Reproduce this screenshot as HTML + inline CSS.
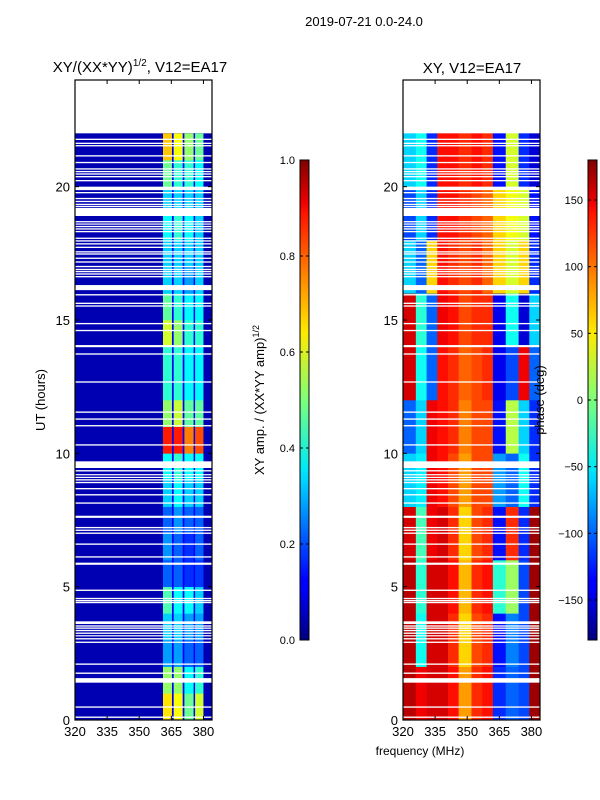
<!DOCTYPE html>
<html><head><meta charset="utf-8">
<style>
html,body{margin:0;padding:0;background:#fff;}
svg{display:block;font-family:"Liberation Sans","DejaVu Sans",sans-serif;}
</style></head>
<body>
<svg id="fig" width="600" height="800" viewBox="0 0 600 800" xmlns="http://www.w3.org/2000/svg">
<defs>
<linearGradient id="jetV" x1="0" y1="1" x2="0" y2="0">
<stop offset="0" stop-color="#000080"/><stop offset="0.11" stop-color="#0000ff"/><stop offset="0.125" stop-color="#0000ff"/>
<stop offset="0.34" stop-color="#00dbff"/><stop offset="0.36" stop-color="#00eaf5"/><stop offset="0.5" stop-color="#7dff7a"/>
<stop offset="0.64" stop-color="#ffea00"/><stop offset="0.66" stop-color="#ffd900"/><stop offset="0.89" stop-color="#ff1300"/>
<stop offset="0.91" stop-color="#f00000"/><stop offset="1" stop-color="#800000"/>
</linearGradient>
</defs>
<text x="364" y="26" text-anchor="middle" font-size="13">2019-07-21 0.0-24.0</text>
<g id="left"></g>
<g id="right"></g>
<g id="cbars"></g>
<text x="140" y="72" text-anchor="middle" font-size="15">XY/(XX*YY)<tspan font-size="10" dy="-6">1/2</tspan><tspan dy="6">, V12=EA17</tspan></text>
<text x="472" y="73" text-anchor="middle" font-size="15">XY, V12=EA17</text>
<text transform="translate(45,400) rotate(-90)" text-anchor="middle" font-size="13">UT (hours)</text>
<text transform="translate(264,400) rotate(-90)" text-anchor="middle" font-size="13">XY amp. / (XX*YY amp)<tspan font-size="9" dy="-5">1/2</tspan></text>
<text transform="translate(544,400) rotate(-90)" text-anchor="middle" font-size="13">phase (deg)</text>
<text x="420" y="755" text-anchor="middle" font-size="12">frequency (MHz)</text>
</svg>
<script>
// ---- data ----
const hourBands = [0,1,2,3,4,5,6,7,8,9,10,11,12,13,14,15,16,17,18,19,20,21,22];
const ampBandStart = [361.1,366.1,371.1,376.1];
const ampBandEnd   = [365.3,370.3,375.4,380.0];
const ampValues = [
 [0.65,0.62,0.48,0.58],[0.52,0.52,0.38,0.42],[0.28,0.28,0.22,0.22],[0.33,0.33,0.28,0.28],
 [0.45,0.38,0.38,0.33],[0.22,0.22,0.17,0.18],[0.27,0.22,0.17,0.22],[0.22,0.27,0.22,0.22],
 [0.33,0.38,0.33,0.33],[0.38,0.42,0.38,0.38],[0.85,0.85,0.75,0.8],[0.52,0.57,0.47,0.47],
 [0.42,0.42,0.37,0.37],[0.42,0.42,0.37,0.37],[0.58,0.52,0.42,0.42],[0.47,0.42,0.37,0.37],
 [0.33,0.33,0.28,0.33],[0.33,0.33,0.33,0.33],[0.38,0.42,0.38,0.33],[0.33,0.33,0.33,0.33],
 [0.48,0.42,0.42,0.38],[0.68,0.62,0.52,0.48]];
const ampBackground = 0.05;
const ampSeparator = 0.12;
const phaseFreqEdges = [320,326,331,336,341,346,352,357,362,368,374,379,384];
const phaseTimeEdges = [0,2,4,6,8,10,12,14,16,18,20,22];
const phaseValues = [
 [160,140,150,150,130,80,120,130,-120,-100,-110,170],
 [160,-40,150,150,120,60,110,120,-130,-90,-110,170],
 [160,-30,150,150,130,70,120,130,-30,10,-110,170],
 [150,-20,140,150,120,60,110,120,-130,120,-120,170],
 [-60,-50,140,130,110,80,110,110,-80,-100,-40,-120],
 [-100,-60,140,130,120,90,110,110,-130,20,-60,-120],
 [150,-40,-100,130,120,100,110,120,-140,-110,140,-100],
 [150,-30,-100,140,130,110,120,120,-140,-40,-150,-60],
 [-60,-100,60,130,120,110,120,100,60,30,60,-120],
 [-110,-60,-120,130,130,120,110,100,60,40,30,-130],
 [-60,-40,-120,130,130,120,130,120,-130,30,-120,-150]];
const gapStart = [0.08,0.46,1.4,1.73,2.07,2.89,3.02,3.14,3.23,3.33,3.42,3.5,3.6,4.38,4.45,4.53,4.84,5.82,6.09,6.57,6.98,7.09,7.19,7.58,8.11,8.42,8.65,8.88,8.98,9.08,9.18,9.32,9.45,10.29,11.01,11.26,11.52,12.65,13.7,13.98,14.58,14.84,15.5,15.6,15.92,16.12,16.6,16.7,16.79,16.87,16.98,17.15,17.29,17.45,17.53,17.7,17.83,17.94,18.04,18.29,18.39,18.48,18.58,18.66,18.9,19.23,19.31,19.42,19.53,19.75,19.87,20.2,20.35,20.45,20.54,20.64,20.88,21.13,21.51,21.6,21.75];
const gapEnd   = [0.13,0.51,1.57,1.78,2.12,2.94,3.07,3.18,3.28,3.38,3.47,3.55,3.7,4.43,4.5,4.58,4.89,5.9,6.14,6.62,7.03,7.14,7.24,7.66,8.16,8.47,8.7,8.93,9.03,9.12,9.22,9.37,9.7,10.34,11.06,11.31,11.57,12.7,13.75,14.06,14.63,14.89,15.55,15.65,15.97,16.31,16.65,16.75,16.84,16.92,17.03,17.2,17.34,17.5,17.58,17.75,17.88,17.99,18.09,18.34,18.44,18.53,18.62,18.71,19.2,19.28,19.36,19.47,19.58,19.8,20.0,20.25,20.4,20.5,20.59,20.69,20.93,21.18,21.56,21.65,21.8];
const xTicks = [320,335,350,365,380];
const yTicks = [0,5,10,15,20];
const ampCbTicks = [0.0,0.2,0.4,0.6,0.8,1.0];
const phaseCbTicks = [-150,-100,-50,0,50,100,150];

// ---- helpers ----
const NS="http://www.w3.org/2000/svg";
function jet(v){v=Math.max(0,Math.min(1,v));
 const c=t=>Math.round(255*Math.max(0,Math.min(1,1.5-Math.abs(4*v-t))));
 return `rgb(${c(3)},${c(2)},${c(1)})`;}
const Y0=720,Y1=80;
const yS=h=>Y0-(h/24)*(Y0-Y1);
function xS(x0){return f=>x0+(f-320)*(137/64);}
function mk(parent,tag,attrs){const e=document.createElementNS(NS,tag);for(const k in attrs)e.setAttribute(k,attrs[k]);parent.appendChild(e);return e;}

function axes(g,x0,name){
 const xs=xS(x0);
 for(let i=0;i<gapStart.length;i++){
  const r=mk(g,'rect',{x:x0,y:yS(gapEnd[i]),width:137,height:Math.max(1.2,yS(gapStart[i])-yS(gapEnd[i])),fill:'#fff'});
  
  
 }
 const fr=mk(g,'rect',{x:x0,y:Y1,width:137,height:Y0-Y1,fill:'none',stroke:'#000','stroke-width':1.2});
 
 
 xTicks.forEach(t=>{const x=xs(t);
  mk(g,'line',{x1:x,x2:x,y1:Y0,y2:Y0-4,stroke:'#000'});
  mk(g,'line',{x1:x,x2:x,y1:Y1,y2:Y1+4,stroke:'#000'});
  const tx=mk(g,'text',{x:x,y:Y0+16,'text-anchor':'middle','font-size':13});tx.textContent=t;
  
  });
 yTicks.forEach(t=>{const y=yS(t);
  mk(g,'line',{x1:x0,x2:x0+4,y1:y,y2:y,stroke:'#000'});
  mk(g,'line',{x1:x0+137,x2:x0+133,y1:y,y2:y,stroke:'#000'});
  const tx=mk(g,'text',{x:x0-5,y:y+5,'text-anchor':'end','font-size':13});tx.textContent=t;
  
  });
}

// ---- amplitude panel ----
const L=document.getElementById('left');const xl=xS(75);
const bg=mk(L,'rect',{x:75,y:yS(22),width:137,height:yS(0)-yS(22),fill:jet(ampBackground)});


const sep=mk(L,'rect',{x:xl(ampBandStart[0]),y:yS(22),width:xl(ampBandEnd[3])-xl(ampBandStart[0]),height:yS(0)-yS(22),fill:jet(ampSeparator)});


for(let r=0;r<ampValues.length;r++){
 for(let c=0;c<ampValues[r].length;c++){
  const x1=xl(ampBandStart[c]),x2=xl(ampBandEnd[c]);
  const cell=mk(L,'rect',{x:x1,y:yS(hourBands[r+1]),width:x2-x1,height:yS(hourBands[r])-yS(hourBands[r+1])+0.3,fill:jet(ampValues[r][c])});
  
  
 }
}
axes(L,75,'amp-plot');

// ---- phase panel ----
const R=document.getElementById('right');const xr=xS(403);
for(let r=0;r<phaseValues.length;r++){
 for(let c=0;c<phaseValues[r].length;c++){
  const x1=xr(phaseFreqEdges[c]),x2=xr(phaseFreqEdges[c+1]);
  const cell=mk(R,'rect',{x:x1,y:yS(phaseTimeEdges[r+1]),width:x2-x1+0.3,height:yS(phaseTimeEdges[r])-yS(phaseTimeEdges[r+1])+0.3,fill:jet((phaseValues[r][c]+180)/360)});
  
  
 }
}
axes(R,403,'phase-plot');

// ---- colorbars ----
const C=document.getElementById('cbars');
function cbar(x,ticks,lo,hi,fmt,name){
 const b=mk(C,'rect',{x:x,y:160,width:9,height:480,fill:'url(#jetV)',stroke:'#000','stroke-width':1});
 
 
 ticks.forEach(t=>{const y=640-(t-lo)/(hi-lo)*480;
  mk(C,'line',{x1:x,x2:x+3,y1:y,y2:y,stroke:'#000'});
  mk(C,'line',{x1:x+9,x2:x+6,y1:y,y2:y,stroke:'#000'});
  const tx=mk(C,'text',{x:x-5,y:y+4,'text-anchor':'end','font-size':11});tx.textContent=fmt(t);
  
  });
}
cbar(300,ampCbTicks,0,1,t=>t.toFixed(1),'amp-colorbar');
cbar(588,phaseCbTicks,-180,180,t=>t<0?'\u2212'+(-t):String(t),'phase-colorbar');
</script>
</body></html>
